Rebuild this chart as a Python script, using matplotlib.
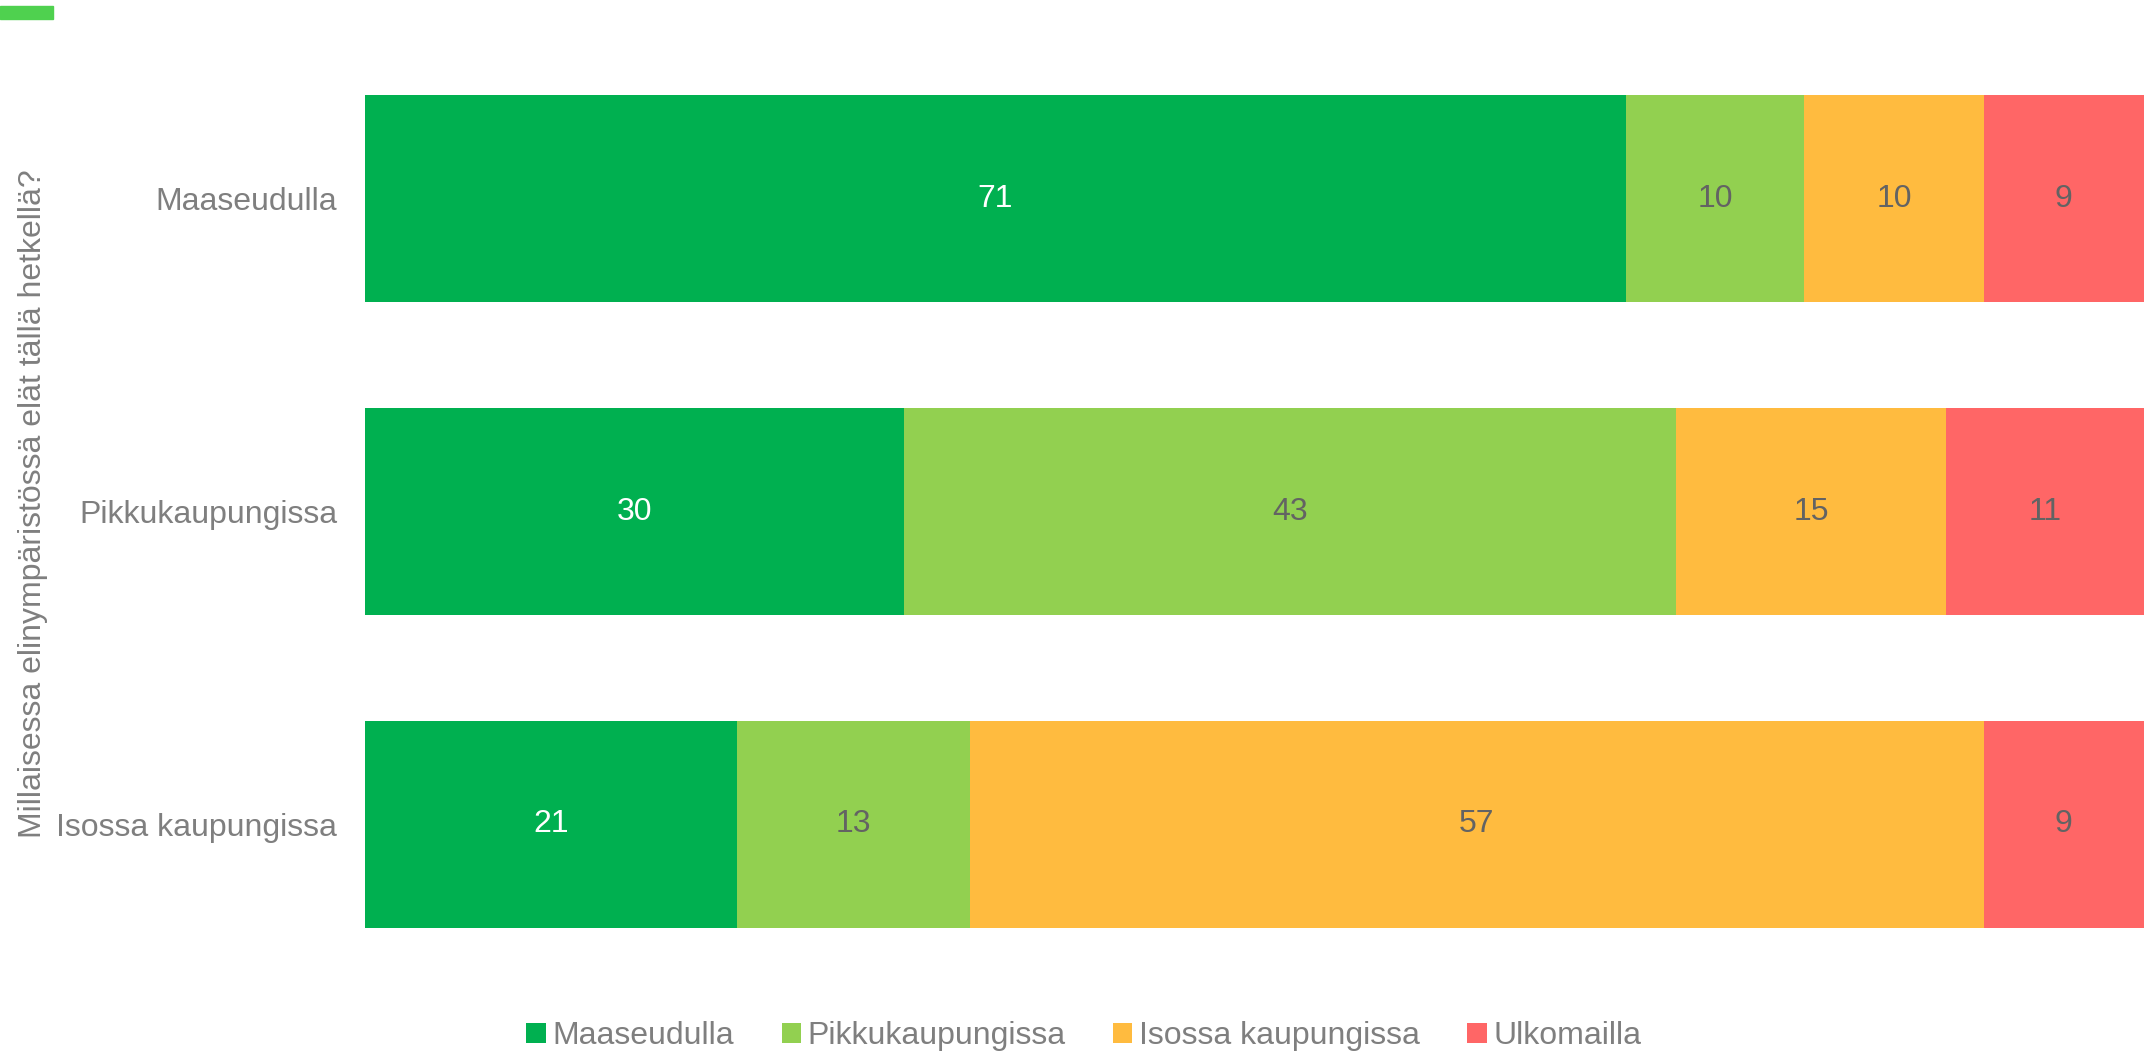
import matplotlib
matplotlib.use('Agg')
import matplotlib.pyplot as plt
from matplotlib.patches import Rectangle

plt.rcParams['font.family'] = ['Liberation Sans', 'DejaVu Sans']

# rows (current living environment) and answer series
rows = ['Maaseudulla', 'Pikkukaupungissa', 'Isossa kaupungissa']
series = ['Maaseudulla', 'Pikkukaupungissa', 'Isossa kaupungissa', 'Ulkomailla']
maaseudulla = [70.9, 30.3, 20.9]
pikkukaupungissa = [10.0, 43.4, 13.1]
isossa_kaupungissa = [10.1, 15.2, 57.0]
ulkomailla = [9.0, 11.1, 9.0]
ylabel = 'Millaisessa elinympäristössä elät tällä hetkellä?'

colors = ['#00B050', '#92D050', '#FFBB3F', '#FF6666']
label_colors = ['white', '#636363', '#636363', '#636363']
gray = '#7F7F7F'

fig = plt.figure(figsize=(21.46, 10.54), dpi=100)
ax = fig.add_axes([0.170, 0.0693, 0.829, 0.8907])

values = [maaseudulla, pikkukaupungissa, isossa_kaupungissa, ulkomailla]
left = [0.0] * len(rows)
ypos = list(range(len(rows)))
for vals, name, col, tcol in zip(values, series, colors, label_colors):
    bars = ax.barh(ypos, vals, left=left, height=0.663, color=col, label=name)
    for b, v in zip(bars, vals):
        ax.text(b.get_x() + b.get_width() / 2, b.get_y() + b.get_height() / 2,
                f'{round(v):d}', ha='center', va='center', color=tcol, fontsize=23)
    left = [l + v for l, v in zip(left, vals)]

ax.set_xlim(0, 100)
ax.set_ylim(2.5, -0.5)
ax.set_yticks(ypos)
ax.set_yticklabels(rows, fontsize=23, color=gray)
ax.tick_params(axis='y', length=0, pad=20)
ax.set_xticks([])
for s in ax.spines.values():
    s.set_visible(False)

fig.text(0.0155, 0.522, ylabel, rotation=90,
         ha='center', va='center', fontsize=23, color=gray)

fig.legend(loc='center', bbox_to_anchor=(0.505, 0.017), ncol=4, frameon=False,
           fontsize=23, labelcolor=gray, handlelength=0.6, handleheight=0.6,
           handletextpad=0.2, columnspacing=1.5)

# small accent mark top-left
fig.patches.append(Rectangle((0, 1 - 19 / 1054), 53 / 2146, 13 / 1054,
                             transform=fig.transFigure, color='#4FD14F'))

fig.savefig('out.png', dpi=100)
